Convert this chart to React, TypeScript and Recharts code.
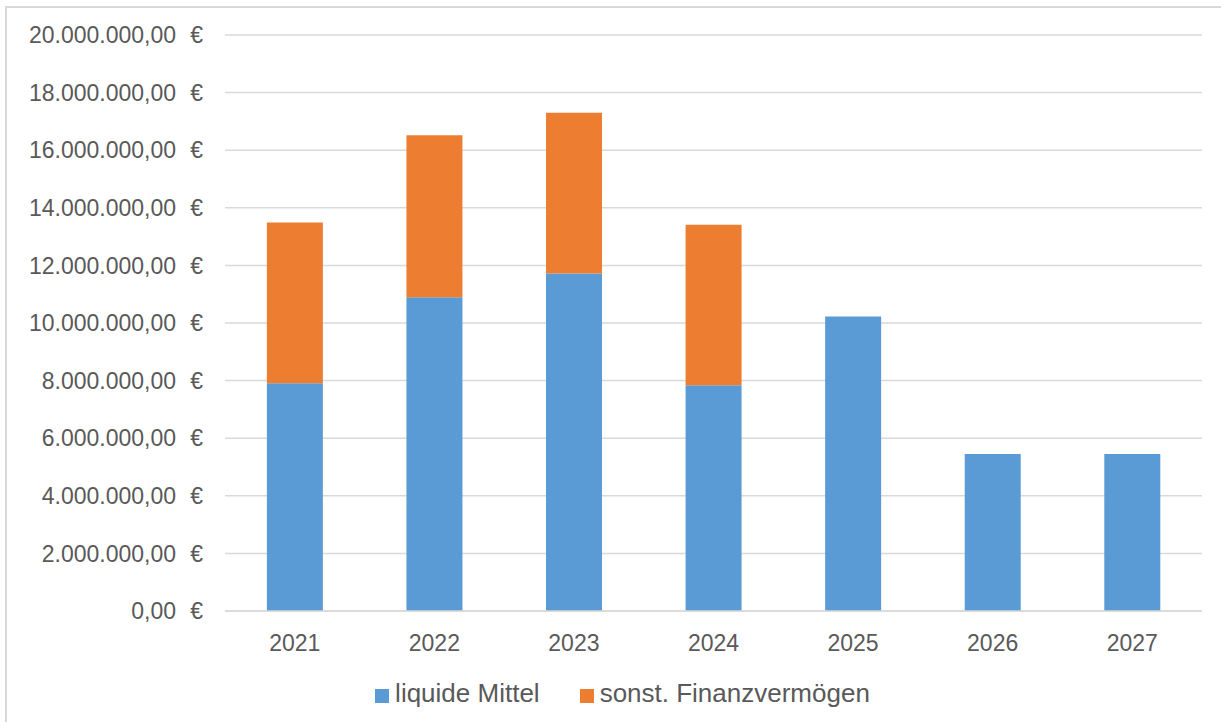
import { BarChart, Bar, XAxis, YAxis, CartesianGrid, Legend } from "recharts";

const years = ["2021", "2022", "2023", "2024", "2025", "2026", "2027"];
const liquideMittel = [7910000, 10890000, 11720000, 7840000, 10230000, 5450000, 5450000];
const finanzvermoegen = [5580000, 5630000, 5580000, 5570000, 0, 0, 0];
const yTicks = [0, 2000000, 4000000, 6000000, 8000000, 10000000, 12000000, 14000000, 16000000, 18000000, 20000000];

const seriesNames = ["liquide Mittel", "sonst. Finanzvermögen"];
const colors = ["#5B9BD5", "#ED7D31"];

const data = years.map((year, i) => ({
  year,
  liquide: liquideMittel[i],
  sonst: finanzvermoegen[i],
}));

const FONT = "'Liberation Sans', Arial, sans-serif";
const TEXT = "#595959";
const GRID = "#d9d9d9";

const formatEuro = (v: number) =>
  v.toLocaleString("de-DE", { minimumFractionDigits: 2, maximumFractionDigits: 2 });

function EuroTick(props: any) {
  const { y, payload } = props;
  return (
    <g fill={TEXT} fontFamily={FONT} fontSize={23}>
      <text x={176} y={y} dy="0.36em" textAnchor="end">
        {formatEuro(payload.value)}
      </text>
      <text x={203} y={y} dy="0.36em" textAnchor="end">
        €
      </text>
    </g>
  );
}

function LegendContent() {
  return (
    <div
      style={{
        display: "flex",
        justifyContent: "center",
        gap: 40,
        fontFamily: FONT,
        fontSize: 26,
        color: TEXT,
        paddingLeft: 24,
      }}
    >
      {seriesNames.map((name, i) => (
        <div key={name} style={{ display: "flex", alignItems: "center" }}>
          <span
            style={{
              display: "inline-block",
              width: 14,
              height: 14,
              background: colors[i],
              marginRight: 6,
              marginTop: 4,
            }}
          />
          <span>{name}</span>
        </div>
      ))}
    </div>
  );
}

export default function App() {
  return (
    <div
      style={{
        position: "absolute",
        left: 0,
        top: 0,
        width: 1221,
        height: 722,
        background: "#fff",
        overflow: "hidden",
      }}
    >
      <div
        style={{
          position: "absolute",
          left: 5,
          top: 6,
          width: 1230,
          height: 730,
          borderLeft: `2px solid ${GRID}`,
          borderTop: `2px solid ${GRID}`,
        }}
      />
      <BarChart
        width={1221}
        height={722}
        data={data}
        margin={{ top: 35, right: 19, bottom: 0, left: 0 }}
        barCategoryGap="30%"
      >
        <CartesianGrid vertical={false} stroke={GRID} strokeWidth={1.5} />
        <XAxis
          dataKey="year"
          axisLine={{ stroke: GRID, strokeWidth: 1.5 }}
          tickLine={false}
          tickMargin={18}
          height={80}
          tick={{ fill: TEXT, fontSize: 23, fontFamily: FONT }}
        />
        <YAxis
          width={225}
          domain={[0, 20000000]}
          ticks={yTicks}
          axisLine={false}
          tickLine={false}
          tick={<EuroTick />}
          interval={0}
        />
        <Legend
          content={<LegendContent />}
          wrapperStyle={{ left: 0, width: 1221, top: 678 }}
        />
        <Bar dataKey="liquide" name={seriesNames[0]} stackId="a" fill={colors[0]} isAnimationActive={false} />
        <Bar dataKey="sonst" name={seriesNames[1]} stackId="a" fill={colors[1]} isAnimationActive={false} />
      </BarChart>
    </div>
  );
}
